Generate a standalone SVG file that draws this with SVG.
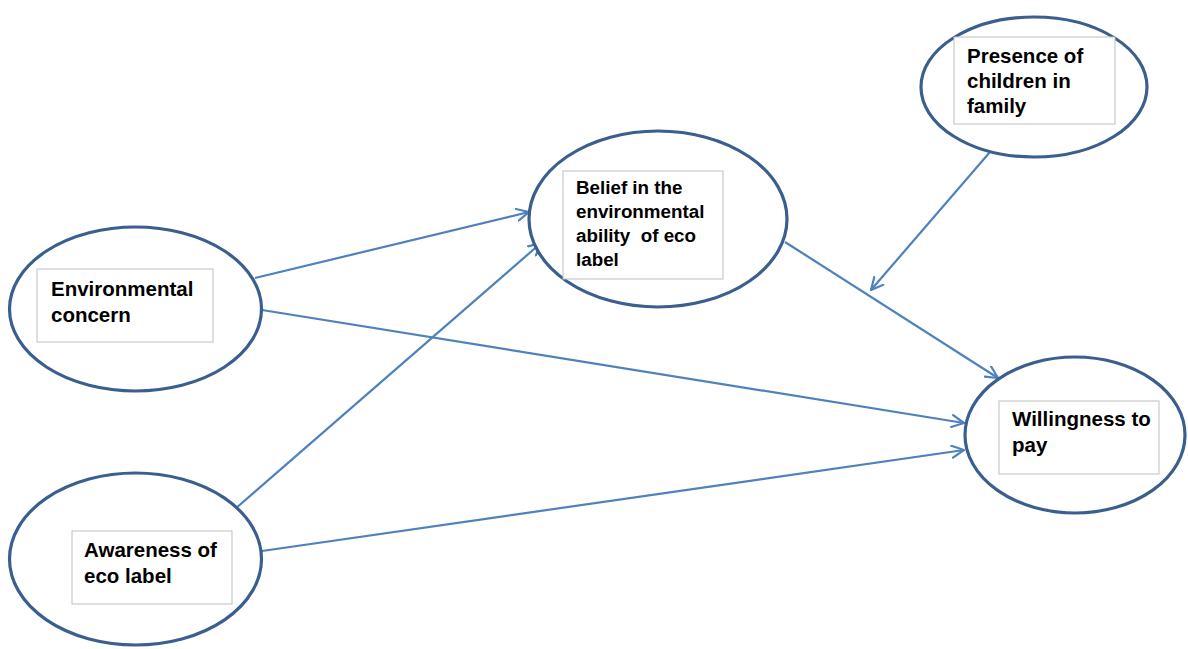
<svg xmlns="http://www.w3.org/2000/svg" width="1188" height="649" viewBox="0 0 1188 649">
<defs>
<marker id="arr" viewBox="0 0 14 14" refX="13" refY="7" markerWidth="14" markerHeight="14" markerUnits="userSpaceOnUse" orient="auto">
<path d="M1,1 L13,7 L1,13" fill="none" stroke="#4F81BD" stroke-width="2.2" stroke-linecap="round" stroke-linejoin="round"/>
</marker>
</defs>
<style>
.ell{fill:#fff;stroke:#3A5F8F;stroke-width:3.2}
.box{fill:#fff;stroke:#BFBFBF;stroke-width:1}
.t{font-family:"Liberation Sans",Arial,sans-serif;font-weight:bold;font-size:20.5px;fill:#000}
.s{font-size:18.8px}
.c{fill:none;stroke:#4F81BD;stroke-width:2.2}
</style>
<rect width="1188" height="649" fill="#fff"/>
<g id="connectors">
<line class="c" x1="255" y1="278" x2="529" y2="212" marker-end="url(#arr)"/>
<line class="c" x1="262" y1="310" x2="964" y2="423" marker-end="url(#arr)"/>
<line class="c" x1="235" y1="509" x2="541" y2="243" marker-end="url(#arr)"/>
<line class="c" x1="262" y1="551" x2="964" y2="450" marker-end="url(#arr)"/>
<line class="c" x1="785" y1="242" x2="998" y2="378" marker-end="url(#arr)"/>
<line class="c" x1="990" y1="152" x2="871" y2="290" marker-end="url(#arr)"/>
</g>
<g id="env">
<ellipse class="ell" cx="135.5" cy="309" rx="126" ry="82"/>
<rect class="box" x="37" y="269" width="176" height="73"/>
<text class="t" x="51" y="296">Environmental</text>
<text class="t" x="51" y="322">concern</text>
</g>
<g id="belief">
<ellipse class="ell" cx="658" cy="219" rx="129" ry="88"/>
<rect class="box" x="563" y="171" width="160" height="108"/>
<text class="t s" x="576" y="194">Belief in the</text>
<text class="t s" x="576" y="218">environmental</text>
<text class="t s" x="576" y="242">ability&#160; of eco</text>
<text class="t s" x="576" y="266">label</text>
</g>
<g id="presence">
<ellipse class="ell" cx="1034" cy="87" rx="113" ry="70"/>
<rect class="box" x="954" y="37" width="161" height="87"/>
<text class="t" x="967" y="63">Presence of</text>
<text class="t" x="967" y="88">children in</text>
<text class="t" x="967" y="113">family</text>
</g>
<g id="willingness">
<ellipse class="ell" cx="1075" cy="435" rx="110" ry="78"/>
<rect class="box" x="999" y="401" width="160" height="73"/>
<text class="t" x="1012" y="426">Willingness to</text>
<text class="t" x="1012" y="452">pay</text>
</g>
<g id="awareness">
<ellipse class="ell" cx="135.5" cy="559" rx="126" ry="86"/>
<rect class="box" x="72" y="531" width="160" height="73"/>
<text class="t" x="84" y="557">Awareness of</text>
<text class="t" x="84" y="583">eco label</text>
</g>
</svg>
